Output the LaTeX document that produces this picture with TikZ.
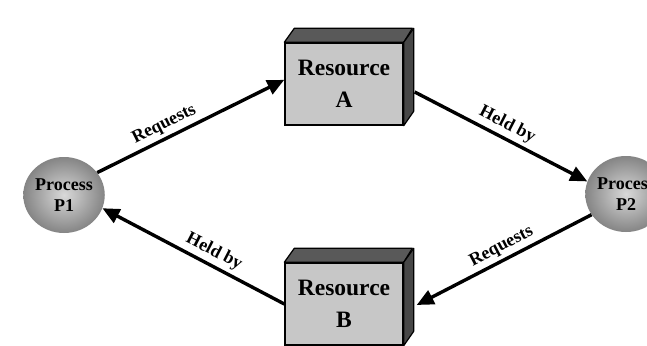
\documentclass[tikz,border=0pt]{standalone}
\usepackage{fontspec}
\setmainfont{Liberation Serif}
\usetikzlibrary{arrows.meta,calc,shapes.geometric}
\begin{document}
\begin{tikzpicture}[x=1pt,y=-1pt,
  resbox/.style={rectangle,draw=black,line width=1.4pt,fill=black!22,
    minimum width=118pt,minimum height=82pt,inner sep=0pt,align=center,
    font=\fontsize{23.5}{32}\selectfont\bfseries},
  proc/.style={ellipse,minimum width=68pt,minimum height=76pt,inner sep=0pt,
    shading=radial,inner color=black!15,outer color=black!48,align=center,
    font=\fontsize{18}{21}\selectfont\bfseries},
  topface/.style={draw=black,line width=1.2pt,fill=black!65,line join=round},
  sideface/.style={draw=black,line width=1.2pt,fill=black!72,line join=round},
  link/.style={line width=3.4pt,-{Triangle[length=17pt,width=15pt]}},
  lbl/.style={font=\fontsize{18}{20}\selectfont\bfseries,anchor=south,inner sep=3.5pt}]
\useasboundingbox (0,0) rectangle (647,345);
% Resource A
\node[resbox] (A) at (344,84) {Resource\\A};
\fill[topface] (A.north west) -- ++(10,-14) -- ++(118,0) -- (A.north east) -- cycle;
\fill[sideface] (A.north east) -- ++(10,-14) -- ++(0,83) -- (A.south east) -- cycle;
% Resource B
\node[resbox] (B) at (344,304) {Resource\\B};
\fill[topface] (B.north west) -- ++(10,-14) -- ++(118,0) -- (B.north east) -- cycle;
\fill[sideface] (B.north east) -- ++(10,-14) -- ++(0,83) -- (B.south east) -- cycle;
% Processes
\node[proc] (P1) at (64,195) {Process\\P1};
\node[proc] (P2) at (626,194) {Process\\P2};
% connectors
\draw[link] (P1.34) -- node[lbl,pos=0.39,rotate=26.6] {Requests} (A.176);
\draw[link] ($(A.east)+(11,8)$) -- node[lbl,pos=0.5,rotate=-27.3] {Held by} (P2.162);
\draw[link] (P2.211) -- node[lbl,pos=0.48,rotate=27.6] {Requests} ($(B.east)+(13,1)$);
\draw[link] (B.west) -- node[lbl,pos=0.42,rotate=-27.3] {Held by} (P1.341);
\end{tikzpicture}
\end{document}
